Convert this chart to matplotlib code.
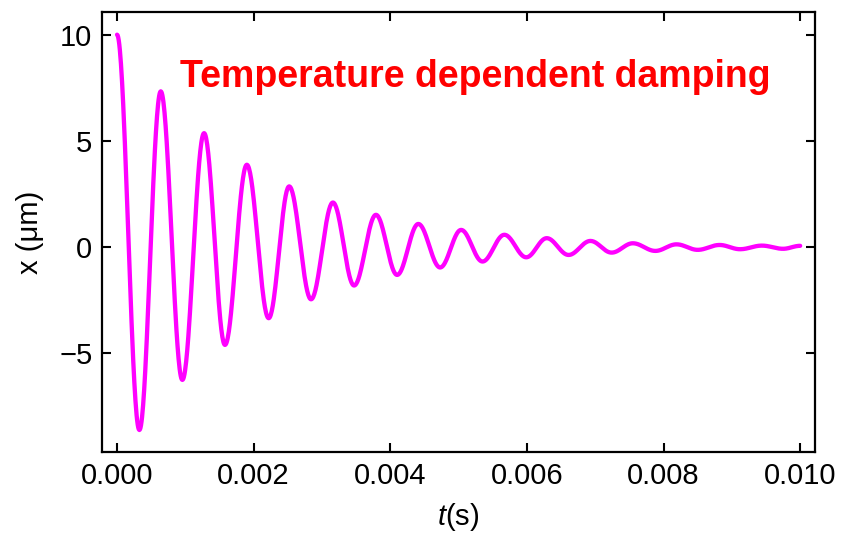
import numpy as np
import matplotlib
matplotlib.use("Agg")
import matplotlib.pyplot as plt

# extrema of the damped oscillation (t in s, x in um)
t_ext = [0.0, 0.000327, 0.00064, 0.000956, 0.001274, 0.00158, 0.0019, 0.00222,
         0.00252, 0.00284, 0.00316, 0.00347, 0.00379, 0.0041, 0.00441, 0.00473,
         0.005037, 0.00535, 0.00567, 0.00599, 0.00629, 0.00661, 0.00693, 0.00724,
         0.00755, 0.00788, 0.00819, 0.0085, 0.00882, 0.00912, 0.00944, 0.00975, 0.010]
x_ext = [10.0, -8.63, 7.33, -6.27, 5.36, -4.62, 3.87, -3.36,
         2.85, -2.47, 2.09, -1.82, 1.51, -1.32, 1.08, -0.97,
         0.80, -0.69, 0.57, -0.49, 0.41, -0.38, 0.28, -0.27,
         0.17, -0.19, 0.12, -0.14, 0.09, -0.11, 0.06, -0.09, 0.05]

xticks = [0.000, 0.002, 0.004, 0.006, 0.008, 0.010]
yticks = [-5, 0, 5, 10]

plt.rcParams['font.family'] = ['Liberation Sans', 'DejaVu Sans']
plt.rcParams['mathtext.fontset'] = 'custom'
plt.rcParams['mathtext.it'] = 'Liberation Sans:italic'

# smooth half-cosine strokes between successive extrema
tt, xx = [], []
for i in range(len(t_ext) - 1):
    s = np.linspace(0, 1, 40, endpoint=False)
    tt.append(t_ext[i] + (t_ext[i + 1] - t_ext[i]) * s)
    xx.append(x_ext[i] + (x_ext[i + 1] - x_ext[i]) * (1 - np.cos(np.pi * s)) / 2)
tt.append([t_ext[-1]])
xx.append([x_ext[-1]])
tt = np.concatenate(tt)
xx = np.concatenate(xx)

fig = plt.figure(figsize=(8.41, 5.35), dpi=100)
ax = fig.add_axes([0.1213, 0.155, 0.848, 0.823])
ax.plot(tt, xx, color='#FF00FF', lw=3.1, solid_capstyle='round')

ax.set_xlim(-0.00022, 0.01022)
ax.set_ylim(-9.67, 11.08)
ax.set_xticks(xticks)
ax.set_xticklabels(['%.3f' % v for v in xticks])
ax.set_yticks(yticks)
ax.tick_params(direction='in', length=6.5, width=1.5, labelsize=21,
               top=True, right=True, pad=7)
for sp in ax.spines.values():
    sp.set_linewidth(1.6)

ax.set_xlabel(r'$t$(s)', fontsize=21, labelpad=8)
ax.set_ylabel('x (μm)', fontsize=21, labelpad=11)

ax.text(0.109, 0.852, 'Temperature dependent damping', transform=ax.transAxes,
        color='#FF0000', fontsize=27, fontweight='bold', va='center')

fig.savefig('out.png', dpi=100)
